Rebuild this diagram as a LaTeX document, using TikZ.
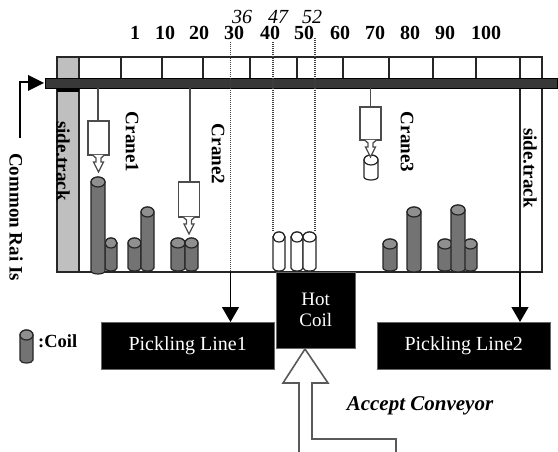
\documentclass[tikz,border=0pt]{standalone}
\usepackage{fontspec}
\setmainfont{Liberation Serif}
\usetikzlibrary{arrows.meta}
\definecolor{coilg}{gray}{0.45}
\newcommand{\coilshape}[5]{% x1 x2 ytop ybot fill
  \pgfmathsetmacro{\cmid}{(#1+#2)/2}\pgfmathsetmacro{\crx}{(#2-#1)/2}
  \draw[coilline,fill=#5] (#1,#3+5) arc[start angle=180,end angle=360,x radius=\crx,y radius=5]
    -- (#2,#4-3) arc[start angle=0,end angle=180,x radius=\crx,y radius=3] -- cycle;
  \draw[coilline,fill=#5!80!white] (\cmid,#3+5) ellipse[x radius=\crx,y radius=5];
}
\newcommand{\cranebody}[3]{% center x, box top, box bottom
  \draw[craneline,fill=white] (#1-10.5,#2) rectangle (#1+10.5,#3);
  \draw[craneline,fill=white] (#1-6,#3) -- (#1-2.5,#3+3) -- (#1-2.5,#3+7) -- (#1-5,#3+7) -- (#1,#3+17)
    -- (#1+5,#3+7) -- (#1+2.5,#3+7) -- (#1+2.5,#3+3) -- (#1+6,#3);
}
\tikzset{
  coilline/.style={draw=black!85,line width=1.2pt},
  craneline/.style={draw=black!70,line width=1.3pt},
  frameline/.style={draw=black!85,line width=1.2pt},
  dots/.style={draw=black!75,line width=1.3pt,dash pattern=on 1pt off 1pt},
  num/.style={font=\fontsize{20}{20}\selectfont\bfseries,inner sep=0pt},
  inum/.style={font=\fontsize{20}{20}\selectfont\itshape,inner sep=0pt},
  sidetext/.style={font=\fontsize{19}{19}\selectfont\bfseries,rotate=-90,inner sep=0pt},
  blackbox/.style={fill=black,draw=black!60,line width=.4pt,text=white,inner sep=0pt,font=\fontsize{20}{22}\selectfont,align=center},
  tip/.style={-{Triangle[length=15pt,width=17pt,fill=black]},line width=1.3pt,draw=black},
}
\begin{document}
\begin{tikzpicture}[x=1pt,y=-1pt]
\useasboundingbox (0,0) rectangle (558,452);
% side tracks
\fill[black!25] (57,57) rectangle (79,272);
\draw[frameline] (57,57) rectangle (542,272);
\foreach \x in {79,121,162,203,250,297,343,389,433,476,520}
  \draw[frameline] (\x,57) -- (\x,78);
\draw[frameline] (79,88) -- (79,272);
\draw[frameline] (520,88) -- (520,272);
% rail
\node (rail) [fill=black!78,draw=black,line width=.8pt,minimum width=512pt,minimum height=10pt,inner sep=0pt,anchor=west] at (45,83.5) {};
\fill[black] (57,89) rectangle (79,92);
% numbers
\foreach \t/\x in {1/135,10/165,20/199,30/234,40/270,50/304,60/340,70/375,80/410,90/445,100/486}
  \node[num] (n\t) at (\x,33) {\t};
\node[inum] (m36) at (242,17) {36};
\node[inum] (m47) at (278,17) {47};
\node[inum] (m52) at (312,17) {52};
% rail label and arrow
\coordinate (cstart) at (20,138);
\coordinate (cbend) at (20,82);
\draw[line width=1.3pt] (cstart) -- (cbend) -- (30,82);
\fill (28,75) -- (44,83) -- (28,91) -- cycle;
\node[sidetext] (common) at (16,217) {Common Rai Is};
\node[sidetext] (st1) at (63,161) {side.track};
\node[sidetext] (st2) at (530,168) {side.track};
\node[sidetext] (c1) at (132,142) {Crane1};
\node[sidetext] (c2) at (218,154) {Crane2};
\node[sidetext] (c3) at (407,142) {Crane3};
% dotted
\draw[dots] (230.5,42) -- (230.5,272);
\draw[dots] (273,42) -- (273,232);
\draw[dots] (315,38) -- (315,232);
% gray coils
\coilshape{105}{117}{238}{271}{coilg}
\coilshape{128}{141}{238}{271}{coilg}
\coilshape{141}{154}{207}{271}{coilg}
\coilshape{171}{185}{238}{271}{coilg}
\coilshape{185}{198}{238}{271}{coilg}
\coilshape{383}{397}{239}{271}{coilg}
\coilshape{407}{421}{207}{272}{coilg}
\coilshape{438}{452}{239}{271}{coilg}
\coilshape{464}{477}{239}{271}{coilg}
\coilshape{451}{465}{205}{272}{coilg}
\coilshape{91}{105}{177}{274}{coilg}
% white coils
\coilshape{273}{285}{232}{271}{white}
\coilshape{291}{303}{232}{271}{white}
\coilshape{303}{316}{232}{271}{white}
% cranes
\draw[craneline] (98,88) -- (98,121);
\cranebody{98.5}{121}{155}
\draw[craneline] (190,88) -- (190,182);
\cranebody{189}{182}{217}
\coilshape{364}{378}{155}{180}{white}
\draw[craneline] (370.5,88) -- (370.5,107);
\cranebody{370.5}{107}{140}
% boxes
\node[blackbox,minimum width=173pt,minimum height=47pt,anchor=north west] (pl1) at (101,322) {Pickling Line1};
\node[blackbox,minimum width=173pt,minimum height=47pt,anchor=north west] (pl2) at (377,322) {Pickling Line2};
\node[blackbox,minimum width=79pt,minimum height=76pt,anchor=north west,font=\fontsize{19}{21}\selectfont] (hot) at (276,272) {Hot\\Coil};
% arrows to lines
\coordinate (p1s) at (230.5,272);
\coordinate (p2s) at (520,272);
\draw[tip] (p1s) -- (p1s |- pl1.north);
\draw[tip] (p2s) -- (p2s |- pl2.north);
% conveyor arrow
\coordinate (ctip) at (305,349);
\draw[draw=black!65,line width=1.6pt,fill=white] (299,453) -- (299,383) -- (283,383) -- (ctip) -- (328,383) -- (312,383) -- (312,439) -- (396,439) -- (396,453);
\node[font=\fontsize{21}{21}\selectfont\bfseries\itshape,inner sep=0pt] (acc) at (420,406) {Accept Conveyor};
% legend
\coilshape{20}{33}{330}{363}{coilg}
\node[font=\fontsize{18.5}{19}\selectfont\bfseries,inner sep=0pt,anchor=west] (lg) at (38,341) {:Coil};
\end{tikzpicture}
\end{document}
